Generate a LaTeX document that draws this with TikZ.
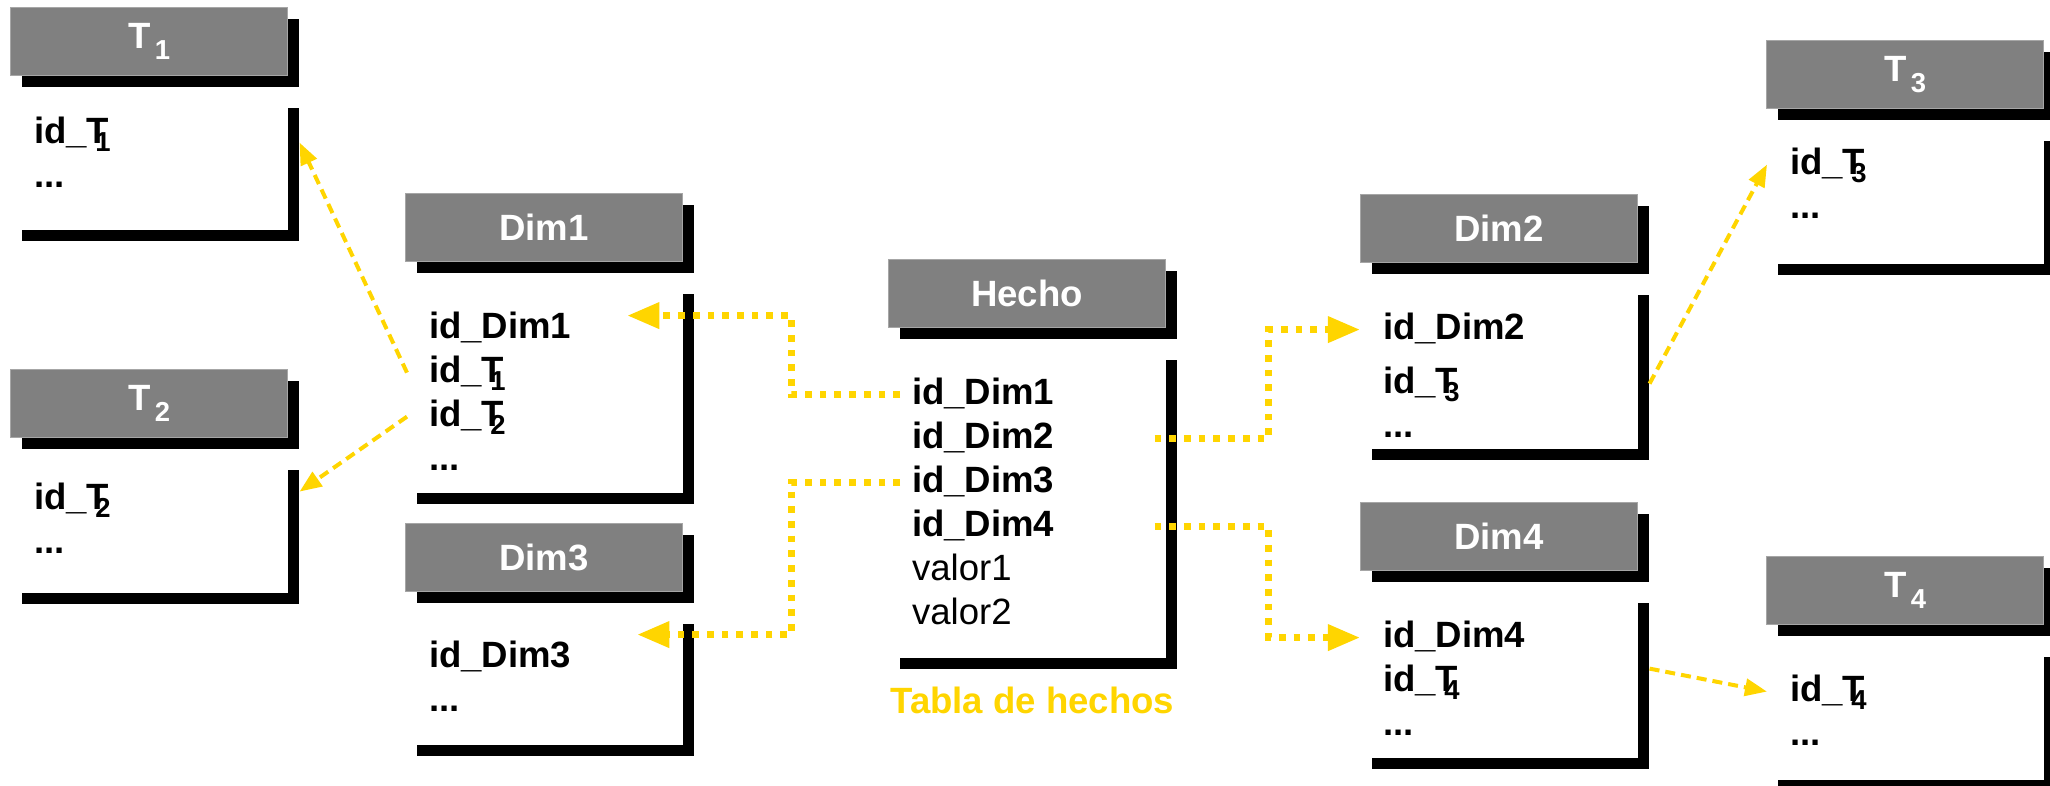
\documentclass[tikz,border=0pt]{standalone}
\usepackage{fontspec}
\setmainfont{Liberation Sans}
\usetikzlibrary{arrows.meta, positioning, calc, shadows}

\definecolor{keygold}{RGB}{255,213,0}
\definecolor{headgray}{RGB}{128,128,128}

\newcommand\tblfont{\fontsize{10.4}{12.5}\selectfont}
\newcommand\hsub[1]{\kern0.12em\raisebox{-0.11cm}{\fontsize{7.8}{8}\selectfont #1}}
\newcommand\isub[1]{\kern-0.38em\raisebox{-0.08cm}{\fontsize{7.8}{8}\selectfont #1}}

\begin{document}
\begin{tikzpicture}[
    x=0.01cm, y=-0.01cm,
    head/.style={rectangle, fill=headgray, draw=black!35, line width=0.3pt, inner sep=0pt,
        minimum width=2.77cm, minimum height=0.68cm, anchor=north west,
        text=white, font=\tblfont\bfseries,
        drop shadow={shadow xshift=0.11cm, shadow yshift=-0.11cm, fill=black, opacity=1}},
    tbl/.style={rectangle, inner sep=0pt, minimum width=2.77cm, minimum height=#1,
        path picture={
            \fill ([xshift=-0.11cm]path picture bounding box.north east) rectangle (path picture bounding box.south east);
            \fill (path picture bounding box.south west) rectangle ([yshift=0.11cm]path picture bounding box.south east);
        }},
    fld/.style={inner sep=0pt, outer sep=0pt, text height=0.32cm, text depth=0.12cm, font=\tblfont\bfseries},
    val/.style={fld, font=\tblfont},
    under/.style={below=0pt of #1.south west, anchor=north west},
    fk/.style={keygold, line width=0.067cm, dash pattern=on 0.067cm off 0.08cm,
        -{Triangle[length=0.32cm, width=0.25cm]}},
    ref/.style={keygold, line width=0.04cm, dash pattern=on 0.1cm off 0.06cm,
        -{Triangle[length=0.22cm, width=0.17cm]}}
]
\useasboundingbox (0,0) rectangle (2050,786);

% T1
\node[head] (t1h) at (10,7) {T\hsub{1}};
\node[tbl=1.33cm, below=0.315cm of t1h.south west, anchor=north west, xshift=0.11cm] (t1) {};
\node[fld, anchor=base west] (t1id) at ($(t1.north west)+(13,36)$) {id\_T\isub{1}};
\node[fld, under=t1id] (t1more) {...};

% T2
\node[head] (t2h) at (10,369) {T\hsub{2}};
\node[tbl=1.34cm, below=0.315cm of t2h.south west, anchor=north west, xshift=0.11cm] (t2) {};
\node[fld, anchor=base west] (t2id) at ($(t2.north west)+(13,40)$) {id\_T\isub{2}};
\node[fld, under=t2id] (t2more) {...};

% Dim1
\node[head] (dim1h) at (405,193) {Dim1};
\node[tbl=2.10cm, below=0.315cm of dim1h.south west, anchor=north west, xshift=0.11cm] (dim1) {};
\node[fld, anchor=base west] (dim1id) at ($(dim1.north west)+(13,45)$) {id\_Dim1};
\node[fld, under=dim1id] (dim1t1) {id\_T\isub{1}};
\node[fld, under=dim1t1] (dim1t2) {id\_T\isub{2}};
\node[fld, under=dim1t2] (dim1more) {...};

% Dim3
\node[head] (dim3h) at (405,523) {Dim3};
\node[tbl=1.32cm, below=0.315cm of dim3h.south west, anchor=north west, xshift=0.11cm] (dim3) {};
\node[fld, anchor=base west] (dim3id) at ($(dim3.north west)+(13,44)$) {id\_Dim3};
\node[fld, under=dim3id] (dim3more) {...};

% Hecho (fact table)
\node[head] (hechoh) at (888,259) {Hecho};
\node[tbl=3.09cm, below=0.315cm of hechoh.south west, anchor=north west, xshift=0.11cm] (hecho) {};
\node[fld, anchor=base west] (hdim1) at ($(hecho.north west)+(13,45)$) {id\_Dim1};
\node[fld, under=hdim1] (hdim2) {id\_Dim2};
\node[fld, under=hdim2] (hdim3) {id\_Dim3};
\node[fld, under=hdim3] (hdim4) {id\_Dim4};
\node[val, under=hdim4] (hval1) {valor1};
\node[val, under=hval1] (hval2) {valor2};
\node[font=\tblfont\bfseries, text=keygold, anchor=base] (caption) at ($(hecho.south)+(-6,43)$) {Tabla de hechos};

% Dim2
\node[head] (dim2h) at (1360,194) {Dim2};
\node[tbl=1.65cm, below=0.315cm of dim2h.south west, anchor=north west, xshift=0.11cm] (dim2) {};
\node[fld, anchor=base west] (dim2id) at ($(dim2.north west)+(12,45)$) {id\_Dim2};
\node[fld, below=0.1cm of dim2id.south west, anchor=north west] (dim2t3) {id\_T\isub{3}};
\node[fld, under=dim2t3] (dim2more) {...};

% Dim4
\node[head] (dim4h) at (1360,502) {Dim4};
\node[tbl=1.66cm, below=0.315cm of dim4h.south west, anchor=north west, xshift=0.11cm] (dim4) {};
\node[fld, anchor=base west] (dim4id) at ($(dim4.north west)+(12,45)$) {id\_Dim4};
\node[fld, under=dim4id] (dim4t4) {id\_T\isub{4}};
\node[fld, under=dim4t4] (dim4more) {...};

% T3
\node[head] (t3h) at (1766,40) {T\hsub{3}};
\node[tbl=1.34cm, below=0.315cm of t3h.south west, anchor=north west, xshift=0.11cm] (t3) {};
\node[fld, anchor=base west] (t3id) at ($(t3.north west)+(13,34)$) {id\_T\isub{3}};
\node[fld, under=t3id] (t3more) {...};

% T4
\node[head] (t4h) at (1766,556) {T\hsub{4}};
\node[tbl=1.34cm, below=0.315cm of t4h.south west, anchor=north west, xshift=0.11cm] (t4) {};
\node[fld, anchor=base west] (t4id) at ($(t4.north west)+(13,45)$) {id\_T\isub{4}};
\node[fld, under=t4id] (t4more) {...};

% elbows of the key connectors
\coordinate (lmid) at ($(dim1.north east)!0.5!(hechoh.north west)$);
\coordinate (rmid) at ($(hecho.north east)!0.5!(dim2h.north west)$);
\coordinate (d1tip) at ($(dim1id.east)+(56,-13)$);
\coordinate (d3tip) at ($(dim3id.east)+(66,-23)$);

% fact table -> dimensions
\draw[fk] ([xshift=-0.12cm]hdim1.west) -| (lmid |- d1tip) -- (d1tip);
\draw[fk] ([xshift=-0.12cm]hdim3.west) -| (lmid |- d3tip) -- (d3tip);
\draw[fk] ($(hdim2 -| hecho.east)+(-23,0)$) -| (rmid |- dim2id) -- ([xshift=-0.23cm]dim2id.west);
\draw[fk] ($(hdim4 -| hecho.east)+(-23,0)$) -| (rmid |- dim4id) -- ([xshift=-0.23cm]dim4id.west);

% dimensions -> T tables
\draw[ref] ([xshift=-0.22cm]dim1t1.west) -- ([yshift=-0.35cm]t1.north east);
\draw[ref] ([xshift=-0.22cm]dim1t2.west) -- ([yshift=-0.22cm]t2.north east);
\draw[ref] (dim2t3 -| dim2.east) -- ([xshift=-0.23cm]t3id.west);
\draw[ref] ($(dim4t4.west -| dim4.east)+(0,-13)$) -- ([xshift=-0.23cm]t4id.west);

\end{tikzpicture}
\end{document}
